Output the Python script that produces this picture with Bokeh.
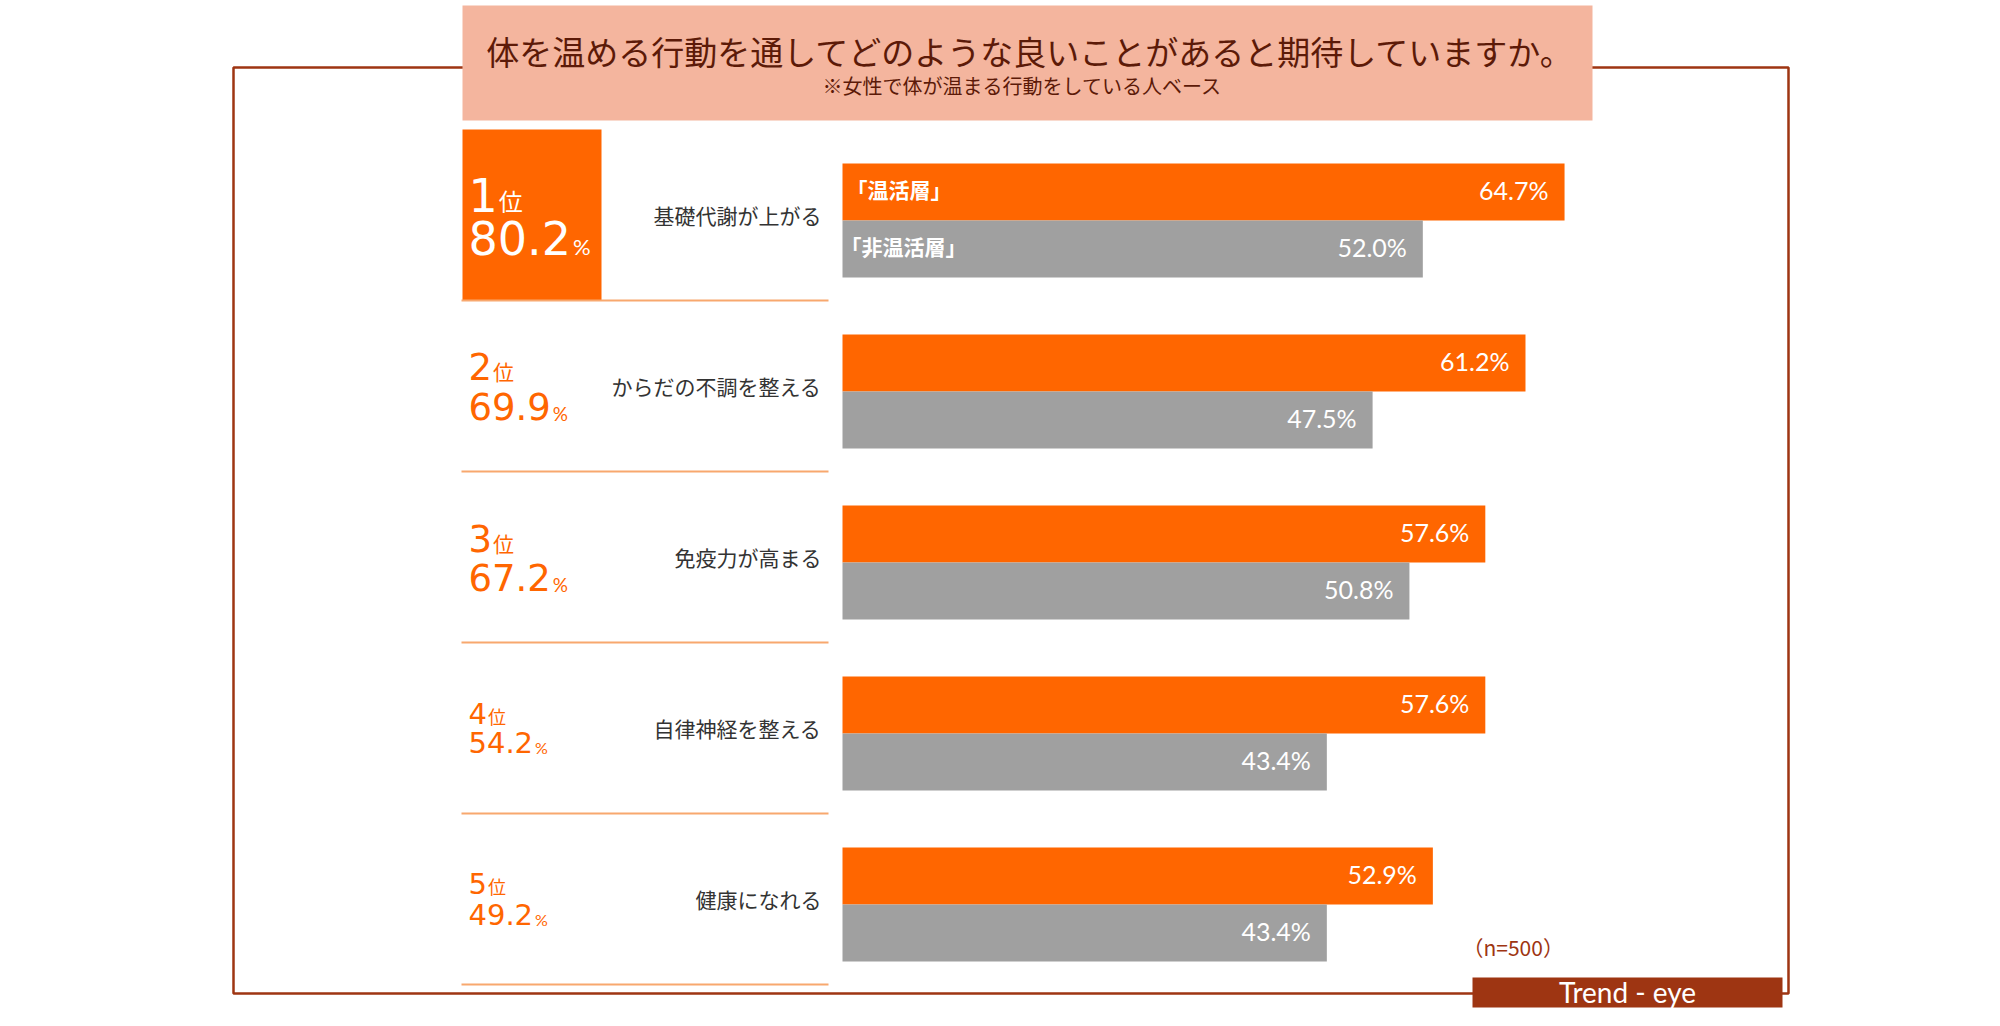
from bokeh.plotting import figure
from bokeh.models import Range1d
from bokeh.core.properties import value
from bokeh.embed import file_html
from bokeh.resources import INLINE

# ---------------- data ----------------
title = "体を温める行動を通してどのような良いことがあると期待していますか。"
subtitle = "※女性で体が温まる行動をしている人ベース"
categories = ["基礎代謝が上がる", "からだの不調を整える", "免疫力が高まる", "自律神経を整える", "健康になれる"]
ranks = ["1", "2", "3", "4", "5"]
rank_pct = [80.2, 69.9, 67.2, 54.2, 49.2]
onkatsu = [64.7, 61.2, 57.6, 57.6, 52.9]
non_onkatsu = [52.0, 47.5, 50.8, 43.4, 43.4]
series_names = ["「温活層」", "「非温活層」"]
rank_suffix = "位"
sample_note = "（n=500）"
brand = "Trend - eye"

# ---------------- layout helpers ----------------
W, H = 1984, 1010
X0 = 842.0          # pixel of 0 %
SCALE = 11.16       # pixels per %
def px(p):          # page pixel -> data x (percent)
    return (p - X0) / SCALE

ROW0, ROW_H = 220, 171
row_y = [ROW0 + ROW_H * i for i in range(len(categories))]
BAR_H = 57
MB = -3             # middle-baseline visual correction

ORANGE = "#FF6600"
GRAY = "#A0A0A0"
BROWN = "#9E3512"
SALMON = "#F4B59E"
SEP = "#F8A86E"

JP = value("Noto Sans CJK JP")
LAT = value("Lato")
DV = value("DejaVu Sans")

p = figure(width=W, height=H, x_range=Range1d(px(0), px(W)), y_range=Range1d(H, 0),
           output_backend="svg", toolbar_location=None, min_border=0,
           x_axis_location=None, y_axis_location=None)
p.grid.visible = False
p.outline_line_color = None
p.background_fill_color = "white"
p.border_fill_color = "white"

# frame
p.quad(left=[px(233)], right=[px(1788)], top=[67], bottom=[993], fill_color=None,
       line_color=BROWN, line_width=2.5)
# title box
p.quad(left=[px(462)], right=[px(1592)], top=[5], bottom=[120], fill_color=SALMON, line_color=None)
p.text(x=[px(1030)], y=[53 + MB], text=[title], text_font=JP, text_font_size=value("33px"),
       text_align="center", text_baseline="middle", text_color="#5C1A08")
p.text(x=[px(1022)], y=[88 + MB], text=[subtitle], text_font=JP, text_font_size=value("20px"),
       text_align="center", text_baseline="middle", text_color="#5C1A08")

# rank 1 box
p.quad(left=[px(462)], right=[px(601)], top=[row_y[0] - 91], bottom=[row_y[0] + 80],
       fill_color=ORANGE, line_color=None)

# separators
sep_y = [y + 80 for y in row_y]
p.segment(x0=[px(461)] * len(sep_y), x1=[px(828)] * len(sep_y), y0=sep_y, y1=sep_y,
          line_color=SEP, line_width=2)

# bars
p.hbar(y=[y - BAR_H / 2 for y in row_y], left=0, right=onkatsu, height=BAR_H,
       fill_color=ORANGE, line_color=None)
p.hbar(y=[y + BAR_H / 2 for y in row_y], left=0, right=non_onkatsu, height=BAR_H,
       fill_color=GRAY, line_color=None)

# bar values
pad = 16 / SCALE
p.text(x=[v - pad for v in onkatsu], y=[y - BAR_H / 2 + 1 + MB for y in row_y],
       text=[f"{v:.1f}%" for v in onkatsu], text_font=LAT, text_font_size=value("25px"),
       text_align="right", text_baseline="middle", text_color="white")
p.text(x=[v - pad for v in non_onkatsu], y=[y + BAR_H / 2 + 1 + MB for y in row_y],
       text=[f"{v:.1f}%" for v in non_onkatsu], text_font=LAT, text_font_size=value("25px"),
       text_align="right", text_baseline="middle", text_color="white")

# series labels on first bars
p.text(x=[px(846), px(840)], y=[row_y[0] - BAR_H / 2 + MB, row_y[0] + BAR_H / 2 + MB],
       text=series_names, text_font=JP, text_font_size=value("21px"), text_font_style="bold",
       text_align="left", text_baseline="middle", text_color="white")

# category labels
p.text(x=[px(821)] * len(categories), y=[y - 3 + MB for y in row_y], text=categories,
       text_font=JP, text_font_size=value("21px"), text_align="right",
       text_baseline="middle", text_color="#333333")

# rank labels
big = [46, 37, 37, 29, 29]
small = [24, 21, 21, 18, 18]
pct_small = [22, 19, 19, 16, 16]
line1 = [-23, -22, -21, -17, -18]
line2 = [20, 18, 18, 12, 13]
LX = 468
for i in range(len(ranks)):
    col = "white" if i == 0 else ORANGE
    c1 = row_y[i] + line1[i] + MB
    c2 = row_y[i] + line2[i] + MB
    hd = 0.73 * big[i]
    p.text(x=[px(LX)], y=[c1], text=[ranks[i]], text_font=DV,
           text_font_size=value(f"{big[i]}px"), text_align="left",
           text_baseline="middle", text_color=col)
    p.text(x=[px(LX + 0.636 * big[i] + 1)], y=[c1 + (hd - 0.88 * small[i]) / 2],
           text=[rank_suffix], text_font=JP,
           text_font_size=value(f"{small[i]}px"), text_align="left",
           text_baseline="middle", text_color=col)
    p.text(x=[px(LX)], y=[c2], text=[f"{rank_pct[i]:.1f}"], text_font=DV,
           text_font_size=value(f"{big[i]}px"), text_align="left",
           text_baseline="middle", text_color=col)
    p.text(x=[px(LX + 2.226 * big[i] + 2)], y=[c2 + (hd - 0.73 * pct_small[i]) / 2],
           text=["%"], text_font=LAT,
           text_font_size=value(f"{pct_small[i]}px"), text_align="left",
           text_baseline="middle", text_color=col)

# sample note and brand
p.text(x=[px(1462)], y=[948 + MB + 1], text=[sample_note], text_font=JP, text_font_size=value("21px"),
       text_align="left", text_baseline="middle", text_color=BROWN)
p.quad(left=[px(1472)], right=[px(1782)], top=[977], bottom=[1007], fill_color=BROWN,
       line_color=None)
p.text(x=[px(1627)], y=[993 - 2], text=[brand], text_font=LAT, text_font_size=value("28px"),
       text_align="center", text_baseline="middle", text_color="white")

open("out.html", "w").write(file_html(p, INLINE))
